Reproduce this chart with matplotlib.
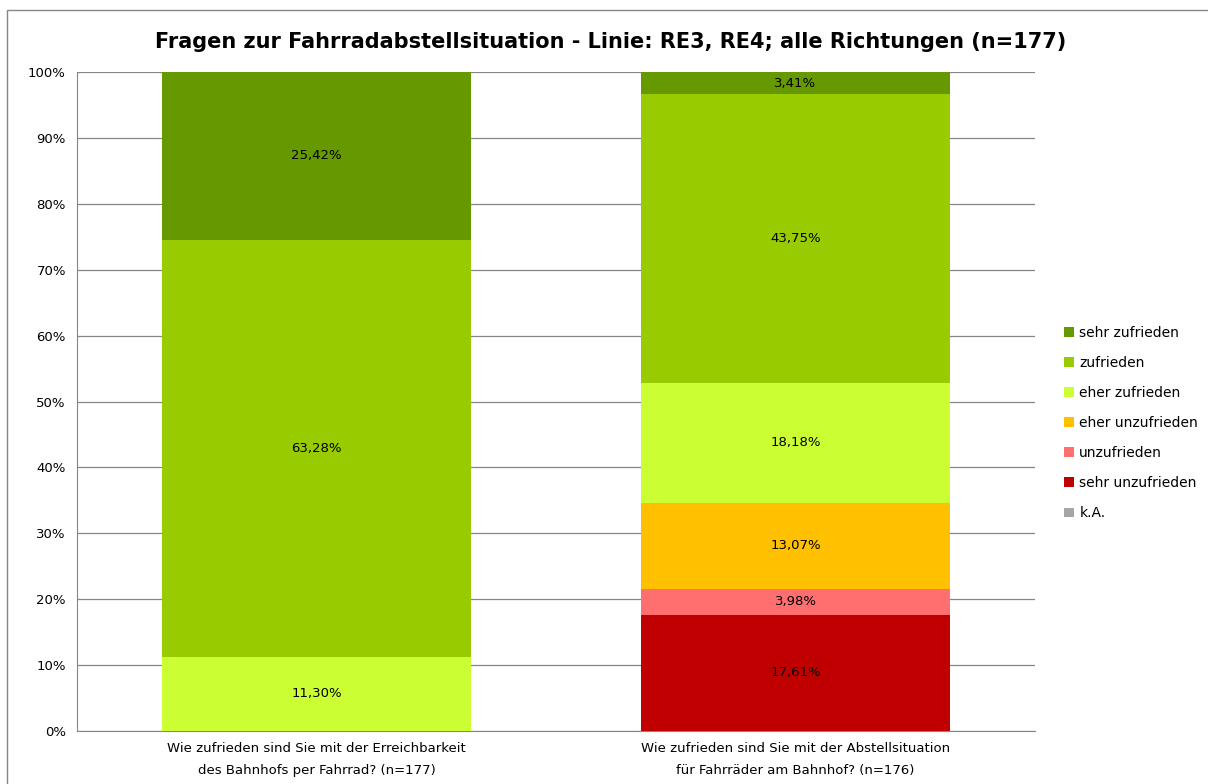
import numpy as np
import matplotlib.pyplot as plt
from matplotlib.patches import Rectangle

# Daten
kategorien = ["Wie zufrieden sind Sie mit der Erreichbarkeit\ndes Bahnhofs per Fahrrad? (n=177)",
              "Wie zufrieden sind Sie mit der Abstellsituation\nfür Fahrräder am Bahnhof? (n=176)"]
stufen = ["k.A.", "sehr unzufrieden", "unzufrieden", "eher unzufrieden",
          "eher zufrieden", "zufrieden", "sehr zufrieden"]
farben = ["#A6A6A6", "#C00000", "#FF6F6F", "#FFC000", "#CCFF33", "#99CC00", "#669900"]
werte_erreichbarkeit = [0.0, 0.0, 0.0, 0.0, 11.30, 63.28, 25.42]
werte_abstellsituation = [0.0, 17.61, 3.98, 13.07, 18.18, 43.75, 3.41]

plt.rcParams['font.family'] = ['Verdana', 'DejaVu Sans']

fig = plt.figure(figsize=(12.08, 7.84), dpi=100)
ax = fig.add_axes([77 / 1208, 1 - 731 / 784, 958 / 1208, 659 / 784])

# Rahmen um das Diagramm
fig.patches.append(Rectangle((7 / 1208, -0.05), 1.1, 1 - 10 / 784 + 0.05,
                             transform=fig.transFigure, fill=False,
                             edgecolor="#868686", linewidth=1.0))

x = np.arange(len(kategorien))
daten = np.array([werte_erreichbarkeit, werte_abstellsituation]).T
unten = np.zeros(len(kategorien))
handles = []
for stufe, farbe, reihe in zip(stufen, farben, daten):
    bars = ax.bar(x, reihe, 0.645, bottom=unten, color=farbe, label=stufe, zorder=3)
    handles.append(bars)
    for xi, b, v in zip(x, unten, reihe):
        if v > 0:
            ax.text(xi, b + v / 2, f"{v:.2f}%".replace(".", ","), ha="center",
                    va="center", fontsize=9.5, zorder=4)
    unten += reihe

ax.set_xlim(-0.5, 1.5)
ax.set_ylim(0, 100)
ax.set_yticks(np.arange(0, 101, 10))
ax.set_yticklabels([f"{t}%" for t in range(0, 101, 10)], fontsize=9.5)
ax.set_xticks(x)
ax.set_xticklabels(kategorien, fontsize=9.5, linespacing=1.9)
ax.tick_params(axis="both", length=0, pad=8)
ax.grid(axis="y", color="#868686", linewidth=0.9, zorder=0)
for s in ["top", "right"]:
    ax.spines[s].set_visible(False)
ax.spines["left"].set_color("#868686")
ax.spines["bottom"].set_color("#868686")

fig.text(611 / 1208, 1 - 42 / 784, "Fragen zur Fahrradabstellsituation - Linie: RE3, RE4; alle Richtungen (n=177)",
         ha="center", va="center", fontsize=15, fontweight="bold")

fig.legend(handles[::-1], stufen[::-1], loc="center left",
           bbox_to_anchor=(1064 / 1208, 1 - 423 / 784), frameon=False,
           fontsize=10, handlelength=0.7, handleheight=0.7, handletextpad=0.4,
           labelspacing=1.16, borderaxespad=0, borderpad=0)

fig.savefig("out.png", dpi=100)
